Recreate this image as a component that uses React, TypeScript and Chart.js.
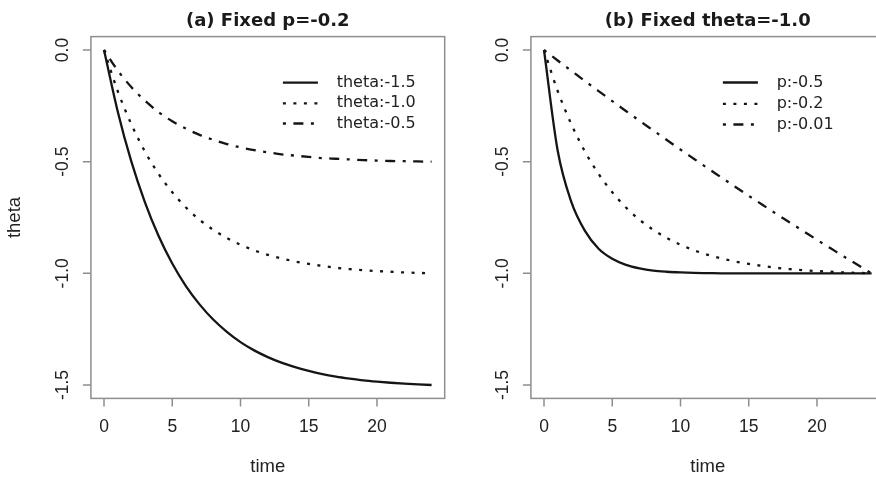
import React, { useEffect, useRef } from "react";
import { Chart, registerables } from "chart.js";

Chart.register(...registerables);

// ---- data ----
const TIME = [0, 1, 2, 3, 4, 5, 6, 7, 8, 9, 10, 11, 12, 13, 14, 15, 16, 17, 18, 19, 20, 21, 22, 23, 24];

const X_TICKS = [0, 5, 10, 15, 20];
const X_TICK_LABELS = ["0", "5", "10", "15", "20"];
const Y_TICKS = [0, -0.5, -1.0, -1.5];
const Y_TICK_LABELS = ["0.0", "-0.5", "-1.0", "-1.5"];

// (a) fixed p = -0.2
const A_THETA_15 = [0, -0.274, -0.499, -0.682, -0.833, -0.956, -1.057, -1.139, -1.207, -1.262, -1.308, -1.345, -1.375, -1.4, -1.42, -1.437, -1.451, -1.462, -1.471, -1.479, -1.485, -1.49, -1.494, -1.497, -1.5];
const A_THETA_10 = [0, -0.183, -0.332, -0.455, -0.555, -0.637, -0.705, -0.76, -0.805, -0.842, -0.872, -0.897, -0.917, -0.933, -0.947, -0.958, -0.967, -0.975, -0.981, -0.986, -0.99, -0.993, -0.996, -0.998, -1.0];
const A_THETA_05 = [0, -0.091, -0.166, -0.227, -0.278, -0.319, -0.352, -0.38, -0.402, -0.421, -0.436, -0.448, -0.458, -0.467, -0.473, -0.479, -0.484, -0.487, -0.49, -0.493, -0.495, -0.497, -0.498, -0.499, -0.5];
const A_LABELS = ["theta:-1.5", "theta:-1.0", "theta:-0.5"];
const A_TITLE = "(a) Fixed p=-0.2";

// (b) fixed theta = -1.0
const B_P_050 = [0, -0.45, -0.68, -0.81, -0.89, -0.935, -0.962, -0.978, -0.988, -0.993, -0.996, -0.998, -0.999, -1.0, -1.0, -1.0, -1.0, -1.0, -1.0, -1.0, -1.0, -1.0, -1.0, -1.0, -1.0];
const B_P_020 = [0, -0.183, -0.332, -0.455, -0.555, -0.637, -0.705, -0.76, -0.805, -0.842, -0.872, -0.897, -0.917, -0.933, -0.947, -0.958, -0.967, -0.975, -0.981, -0.986, -0.99, -0.993, -0.996, -0.998, -1.0];
const B_P_001 = [0, -0.047, -0.093, -0.139, -0.184, -0.229, -0.273, -0.317, -0.36, -0.403, -0.446, -0.488, -0.53, -0.571, -0.612, -0.653, -0.693, -0.733, -0.772, -0.811, -0.85, -0.888, -0.926, -0.963, -1.0];
const B_LABELS = ["p:-0.5", "p:-0.2", "p:-0.01"];
const B_TITLE = "(b) Fixed theta=-1.0";

const X_TITLE = "time";
const Y_TITLE = "theta";

// ---- styling ----
const INK = "#151515";
const FRAME = "#8e8e8e";
const LINE_W = 2.3;
const DASHES: number[][] = [[], [3, 7.5], [3, 7.5, 10, 7.5]];
const CANVAS_W = 460;
const CANVAS_H = 479;
const TICK_FONT = '17.5px "Liberation Sans", Arial, sans-serif';
const AXIS_TITLE_FONT = '18.5px "Liberation Sans", Arial, sans-serif';
const TITLE_FONT = 'bold 18px "DejaVu Sans", sans-serif';
const LEGEND_FONT = '16px "DejaVu Sans", sans-serif';

type PanelProps = {
  left: number;
  title: string;
  labels: string[];
  series: number[][];
  yTitle: boolean;
  legendRows: number[];
};

function makeDecor(title: string, labels: string[], yTitle: boolean, legendRows: number[]) {
  return {
    id: "rDecor",
    beforeDatasetsDraw(chart: any) {
      const { ctx, chartArea: a } = chart;
      const x = chart.scales.x;
      const y = chart.scales.y;
      ctx.save();
      // frame and tick marks
      ctx.strokeStyle = FRAME;
      ctx.lineWidth = 1.5;
      ctx.strokeRect(a.left, a.top, a.right - a.left, a.bottom - a.top);
      ctx.beginPath();
      X_TICKS.forEach((v) => {
        const px = x.getPixelForValue(v);
        ctx.moveTo(px, a.bottom);
        ctx.lineTo(px, a.bottom + 8);
      });
      Y_TICKS.forEach((v) => {
        const py = y.getPixelForValue(v);
        ctx.moveTo(a.left, py);
        ctx.lineTo(a.left - 8, py);
      });
      ctx.stroke();

      // tick labels
      ctx.fillStyle = "#222";
      ctx.font = TICK_FONT;
      ctx.textAlign = "center";
      ctx.textBaseline = "middle";
      X_TICKS.forEach((v, i) => {
        ctx.fillText(X_TICK_LABELS[i], x.getPixelForValue(v), a.bottom + 29);
      });
      Y_TICKS.forEach((v, i) => {
        ctx.save();
        ctx.translate(a.left - 28, y.getPixelForValue(v));
        ctx.rotate(-Math.PI / 2);
        ctx.fillText(Y_TICK_LABELS[i], 0, 0);
        ctx.restore();
      });

      // axis titles
      const cx = (a.left + a.right) / 2;
      const cy = (a.top + a.bottom) / 2;
      ctx.font = AXIS_TITLE_FONT;
      ctx.fillText(X_TITLE, cx, 467);
      if (yTitle) {
        ctx.save();
        ctx.translate(15, cy);
        ctx.rotate(-Math.PI / 2);
        ctx.fillText(Y_TITLE, 0, 0);
        ctx.restore();
      }

      // main title
      ctx.font = TITLE_FONT;
      ctx.textBaseline = "alphabetic";
      ctx.fillStyle = "#1a1a1a";
      ctx.fillText(title, cx, 26);
      ctx.restore();
    },
    afterDraw(chart: any) {
      const { ctx, chartArea: a } = chart;
      ctx.save();
      // legend without a box
      labels.forEach((lab, i) => {
        const ry = legendRows[i];
        ctx.strokeStyle = INK;
        ctx.lineWidth = LINE_W;
        ctx.setLineDash(DASHES[i]);
        ctx.beginPath();
        ctx.moveTo(a.left + 192, ry);
        ctx.lineTo(a.left + 227, ry);
        ctx.stroke();
        ctx.setLineDash([]);
        ctx.fillStyle = "#222";
        ctx.font = LEGEND_FONT;
        ctx.textAlign = "left";
        ctx.textBaseline = "middle";
        ctx.fillText(lab, a.left + 245.8, ry);
      });
      ctx.restore();
    },
  };
}

function Panel({ left, title, labels, series, yTitle, legendRows }: PanelProps) {
  const ref = useRef<HTMLCanvasElement | null>(null);
  useEffect(() => {
    if (!ref.current) return;
    const chart = new Chart(ref.current, {
      type: "line",
      data: {
        datasets: series.map((s, i) => ({
          label: labels[i],
          data: TIME.map((t, j) => ({ x: t, y: s[j] })),
          borderColor: INK,
          borderWidth: LINE_W,
          borderDash: DASHES[i],
          pointRadius: 0,
          fill: false,
          cubicInterpolationMode: "monotone" as const,
        })),
      },
      options: {
        animation: false,
        responsive: false,
        maintainAspectRatio: false,
        devicePixelRatio: 1,
        layout: { padding: { left: 90.9, top: 36.6, right: 15.3, bottom: 80.6 } },
        scales: {
          x: { type: "linear", min: -0.96, max: 24.96, display: false },
          y: { type: "linear", min: -1.56, max: 0.06, display: false },
        },
        plugins: {
          legend: { display: false },
          tooltip: { enabled: false },
          title: { display: false },
        },
      },
      plugins: [makeDecor(title, labels, yTitle, legendRows)],
    });
    return () => chart.destroy();
  }, []);
  return (
    <canvas
      ref={ref}
      width={CANVAS_W}
      height={CANVAS_H}
      style={{ position: "absolute", left, top: 0, width: CANVAS_W, height: CANVAS_H }}
    />
  );
}

export default function App() {
  return (
    <div
      style={{
        position: "fixed",
        left: 0,
        top: 0,
        width: 876,
        height: 479,
        overflow: "hidden",
        background: "#ffffff",
      }}
    >
      <Panel
        left={0}
        title={A_TITLE}
        labels={A_LABELS}
        series={[A_THETA_15, A_THETA_10, A_THETA_05]}
        yTitle={true}
        legendRows={[82.7, 103.3, 123.5]}
      />
      <Panel
        left={440}
        title={B_TITLE}
        labels={B_LABELS}
        series={[B_P_050, B_P_020, B_P_001]}
        yTitle={false}
        legendRows={[82.5, 103.8, 124.5]}
      />
    </div>
  );
}
